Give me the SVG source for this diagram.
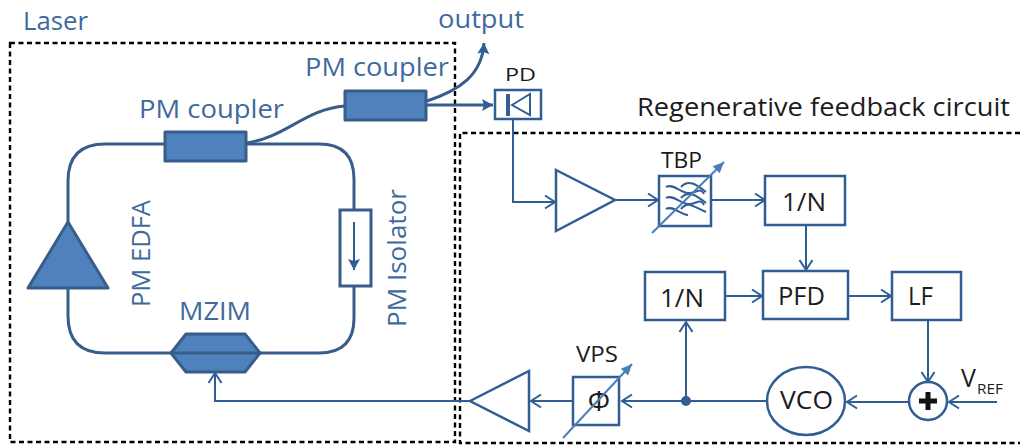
<svg xmlns="http://www.w3.org/2000/svg" width="1020" height="448" viewBox="0 0 1020 448">
<defs>
<marker id="open" markerUnits="userSpaceOnUse" markerWidth="16" markerHeight="16" refX="13" refY="8" orient="auto"><path d="M3 1.5L13 8L3 14.500" fill="none" stroke="#2f5d94" stroke-width="2"/></marker>
<marker id="solid" markerUnits="userSpaceOnUse" markerWidth="14" markerHeight="14" refX="12" refY="7" orient="auto"><path d="M1 1L12 7L1 13L3 7Z" fill="#2f5d94"/></marker>
<marker id="lightsolid" markerUnits="userSpaceOnUse" markerWidth="14" markerHeight="14" refX="12" refY="7" orient="auto"><path d="M1 2L12 7L1 12Z" fill="#4a7ebb"/></marker>
</defs>
<style>
text{font-family:"Open Sans","Noto Sans","DejaVu Sans",sans-serif}
.bl{fill:#3f6a9c}
.bk{fill:#1c1c1c}
.dash{fill:none;stroke:#000;stroke-width:2.400;stroke-dasharray:5 3.500}
.fiber{fill:none;stroke:#385d8a;stroke-width:3}
.comp{fill:#4f81bd;stroke:#385d8a;stroke-width:3;stroke-linejoin:round}
.box{fill:#fff;stroke:#2f5d94;stroke-width:2.500}
.line{fill:none;stroke:#2f5d94;stroke-width:2}
.tune{fill:none;stroke:#4a7ebb;stroke-width:2;marker-end:url(#lightsolid)}
.wave{fill:none;stroke:#2f5d94;stroke-width:2}
</style>
<rect fill="#fff" width="1020" height="448"/>
<g id="regions">
<path class="dash" d="M10 43H455V442H10Z"/>
<path class="dash" d="M1020 133H460V443H1020"/>
</g>
<g id="connectors">
<path class="fiber" d="M164 144H105Q68 144 68 181V222"/>
<path class="fiber" d="M246 144H319Q354 144 354 179V210"/>
<path class="fiber" d="M354 286V318Q354 353 319 353H260"/>
<path class="fiber" d="M171 353H105Q68 353 68 316V288"/>
<path class="fiber" d="M246 143C285 138 305 109 345 106"/>
<path class="fiber" d="M427 101C460 90 482 75 484 43" marker-end="url(#solid)"/>
<path class="fiber" d="M426 105H493" marker-end="url(#solid)"/>
<path class="line" d="M513 119V202H555" marker-end="url(#open)"/>
<path class="line" d="M615 200H658" marker-end="url(#open)"/>
<path class="line" d="M711 200H765" marker-end="url(#open)"/>
<path class="line" d="M806 225V270" marker-end="url(#open)"/>
<path class="line" d="M725 296H762" marker-end="url(#open)"/>
<path class="line" d="M848 296H891" marker-end="url(#open)"/>
<path class="line" d="M928 320V382" marker-end="url(#open)"/>
<path class="line" d="M997 402H949" marker-end="url(#open)"/>
<path class="line" d="M908 402H847" marker-end="url(#open)"/>
<path class="line" d="M767 401H622" marker-end="url(#open)"/>
<path class="line" d="M686 401V322" marker-end="url(#open)"/>
<path class="line" d="M573 401H531" marker-end="url(#open)"/>
<path class="line" d="M470 401H215V373" marker-end="url(#open)"/>
</g>
<g id="laser-label"><text class="bl" x="23" y="30" font-size="25" textLength="65" lengthAdjust="spacingAndGlyphs">Laser</text></g>
<g id="output-label"><text class="bl" x="438" y="28" font-size="25" textLength="86" lengthAdjust="spacingAndGlyphs">output</text></g>
<g id="coupler1"><rect class="comp" x="165" y="132" width="81" height="29"/><text class="bl" x="139" y="118" font-size="25" textLength="145" lengthAdjust="spacingAndGlyphs">PM coupler</text></g>
<g id="coupler2"><rect class="comp" x="345" y="91" width="81" height="29"/><text class="bl" x="305" y="76" font-size="25" textLength="144" lengthAdjust="spacingAndGlyphs">PM coupler</text></g>
<g id="edfa"><path class="comp" d="M68 222L108 288H28Z"/><text class="bl" transform="translate(150 307) rotate(-90)" font-size="25" textLength="107" lengthAdjust="spacingAndGlyphs">PM EDFA</text></g>
<g id="isolator"><rect x="340" y="210" width="31" height="76" fill="#fff" stroke="#385d8a" stroke-width="3"/><path d="M354 222V270" class="line" marker-end="url(#solid)"/><text class="bl" transform="translate(406 327) rotate(-90)" font-size="25" textLength="138" lengthAdjust="spacingAndGlyphs">PM Isolator</text></g>
<g id="mzim"><path class="comp" d="M186 334H245L260 353L245 372H186L171 353Z"/><path class="fiber" d="M171 353H260"/><text class="bl" x="179" y="320" font-size="25" textLength="72" lengthAdjust="spacingAndGlyphs">MZIM</text></g>
<g id="pd"><rect class="box" x="495" y="90" width="46" height="29"/><rect x="506" y="94" width="4" height="22" fill="#385d8a"/><path d="M512 105L530 94V115Z" fill="none" stroke="#2f5d94" stroke-width="2"/><text class="bk" x="505" y="81" font-size="19" textLength="31" lengthAdjust="spacingAndGlyphs">PD</text></g>
<g id="circuit-label"><text class="bk" x="637" y="116" font-size="25" textLength="373" lengthAdjust="spacingAndGlyphs">Regenerative feedback circuit</text></g>
<g id="amp1"><path class="box" d="M556 170L615 200L556 231Z"/></g>
<g id="tbp"><rect class="box" x="659" y="176" width="52" height="50"/>
<path class="wave" d="M666 187C672 183 680 192 688 193S700 186 704 194"/><path class="wave" d="M666 198C672 194 680 203 688 204S700 197 704 205"/><path class="wave" d="M666 209C672 205 680 214 688 215"/><path class="wave" d="M681 187C688 179 696 184 706 192"/><path class="wave" d="M681 198C688 190 696 195 706 203"/><path class="wave" d="M681 209C688 201 692 206 706 212"/>
<path class="tune" d="M652 233L724 162"/><text class="bk" x="661" y="168" font-size="21" textLength="41" lengthAdjust="spacingAndGlyphs">TBP</text></g>
<g id="div1"><rect class="box" x="765" y="176" width="80" height="49"/><text class="bk" x="782" y="211" font-size="25" textLength="44" lengthAdjust="spacingAndGlyphs">1/N</text></g>
<g id="div2"><rect class="box" x="645" y="272" width="80" height="48"/><text class="bk" x="660" y="307" font-size="25" textLength="44" lengthAdjust="spacingAndGlyphs">1/N</text></g>
<g id="pfd"><rect class="box" x="763" y="271" width="85" height="48"/><text class="bk" x="778" y="305" font-size="25" textLength="47" lengthAdjust="spacingAndGlyphs">PFD</text></g>
<g id="lf"><rect class="box" x="892" y="272" width="69" height="48"/><text class="bk" x="908" y="305" font-size="25" textLength="25" lengthAdjust="spacingAndGlyphs">LF</text></g>
<g id="sum"><circle class="box" cx="928" cy="401" r="19"/><path d="M928 392V410M919 401H937" stroke="#111" stroke-width="5" fill="none"/></g>
<g id="vref"><text class="bk" x="961" y="387" font-size="25">V</text><text class="bk" x="977" y="394" font-size="15" textLength="26" lengthAdjust="spacingAndGlyphs">REF</text></g>
<g id="vco"><ellipse class="box" cx="806" cy="401" rx="39" ry="34"/><text class="bk" x="780" y="409" font-size="25" textLength="53" lengthAdjust="spacingAndGlyphs">VCO</text></g>
<g id="junction"><circle cx="686" cy="401" r="5" fill="#2f5d94"/></g>
<g id="vps"><rect class="box" x="573" y="377" width="46" height="48"/><text class="bk" x="599" y="411" font-size="28" text-anchor="middle">Φ</text><path class="tune" d="M563 438L632 364"/><text class="bk" x="576" y="362" font-size="21" textLength="42" lengthAdjust="spacingAndGlyphs">VPS</text></g>
<g id="amp2"><path class="box" d="M470 401L529 371V431Z"/></g>
</svg>
